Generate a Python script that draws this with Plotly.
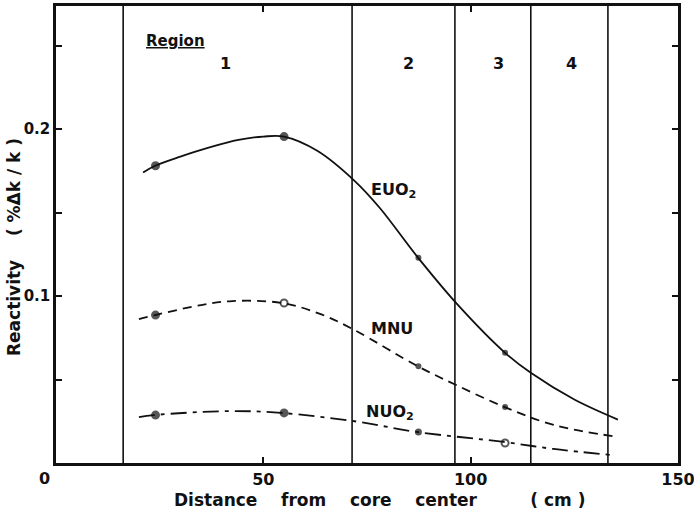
import plotly.graph_objects as go

# ---- data ----
# smooth curves
euo2_curve_x = [21.0, 23.9, 30.0, 37.0, 44.0, 50.0, 55.0, 63.0, 72.0, 78.0, 87.3, 96.8, 108.3, 114.5, 125.0, 135.5]
euo2_curve_y = [0.174, 0.178, 0.1835, 0.189, 0.1935, 0.1955, 0.1955, 0.187, 0.169, 0.153, 0.123, 0.095, 0.066, 0.054, 0.038, 0.026]

mnu_curve_x = [20.0, 23.9, 35.0, 42.5, 54.6, 64.0, 72.0, 87.2, 96.5, 108.2, 120.0, 135.5]
mnu_curve_y = [0.0862, 0.0886, 0.0946, 0.097, 0.0958, 0.089, 0.0796, 0.058, 0.0467, 0.0335, 0.0228, 0.0156]

nuo2_curve_x = [20.0, 23.6, 42.0, 54.3, 72.0, 87.0, 108.0, 120.0, 134.0]
nuo2_curve_y = [0.0275, 0.0287, 0.0311, 0.030, 0.025, 0.0186, 0.0126, 0.0084, 0.0048]

# measured points
point_x = [24.0, 55.0, 87.4, 108.3]
euo2_pts = [0.178, 0.1955, 0.123, 0.066]
mnu_pts = [0.0886, 0.0958, 0.058, 0.0335]
nuo2_pts = [0.0287, 0.030, 0.0186, 0.0120]

# region boundaries and labels
region_bounds = [16.2, 71.4, 96.2, 114.5, 133.1]
region_names = ["1", "2", "3", "4"]
region_label_x = [40.8, 84.9, 106.8, 124.4]

series_names = ["EUO<sub>2</sub>", "MNU", "NUO<sub>2</sub>"]
series_label_x = [81.3, 81.0, 80.6]
series_label_y = [0.1635, 0.0808, 0.0300]

x_ticks = [50, 100, 150]
y_ticks = [0.1, 0.2]
y_tick_text = ["0.1", "0.2"]
y_minor_ticks = [0.05, 0.15, 0.25]

x_title = "Distance    from    core    center         ( cm )"
y_title = "Reactivity    ( %Δk / k )"

# ---- styles ----
FONT = "DejaVu Sans"
INK = "#111111"

fig = go.Figure()

fig.add_trace(go.Scatter(x=euo2_curve_x, y=euo2_curve_y, mode="lines",
                         line=dict(color=INK, width=1.8, shape="spline", smoothing=1.0),
                         showlegend=False, hoverinfo="skip"))
fig.add_trace(go.Scatter(x=mnu_curve_x, y=mnu_curve_y, mode="lines",
                         line=dict(color=INK, width=1.8, shape="spline", smoothing=1.0,
                                   dash="9px,6px"),
                         showlegend=False, hoverinfo="skip"))
fig.add_trace(go.Scatter(x=nuo2_curve_x, y=nuo2_curve_y, mode="lines",
                         line=dict(color=INK, width=1.8, shape="spline", smoothing=1.0,
                                   dash="16px,6px,4px,6px"),
                         showlegend=False, hoverinfo="skip"))

# point markers
euo2_sym = ["circle", "circle", "circle", "circle"]
euo2_size = [7, 7, 4, 4]
mnu_sym = ["circle", "circle-open", "circle", "circle"]
mnu_size = [7, 7, 4, 4]
nuo2_sym = ["circle", "circle", "circle", "circle-open"]
nuo2_size = [7, 7, 5, 7]

for ys, sym, sz in [(euo2_pts, euo2_sym, euo2_size),
                    (mnu_pts, mnu_sym, mnu_size),
                    (nuo2_pts, nuo2_sym, nuo2_size)]:
    fig.add_trace(go.Scatter(x=point_x, y=ys, mode="markers",
                             marker=dict(color=INK, symbol=sym, size=sz,
                                         line=dict(color=INK, width=2)),
                             showlegend=False, hoverinfo="skip"))

# region boundary lines
shapes = []
for b in region_bounds:
    shapes.append(dict(type="line", xref="x", yref="paper", x0=b, x1=b, y0=0, y1=1,
                       line=dict(color=INK, width=1.6)))

annotations = []
for name, rx in zip(region_names, region_label_x):
    annotations.append(dict(x=rx, y=0.899, xref="x", yref="paper", text=name,
                            showarrow=False, font=dict(family=FONT, size=16, color=INK,
                                                       weight="bold")))
annotations.append(dict(x=28.9, y=0.947, xref="x", yref="paper", text="<u>Region</u>",
                        showarrow=False, font=dict(family=FONT, size=15, color=INK,
                                                   weight="bold")))
for name, lx, ly in zip(series_names, series_label_x, series_label_y):
    annotations.append(dict(x=lx, y=ly, xref="x", yref="y", text=name, showarrow=False,
                            font=dict(family=FONT, size=16, color=INK, weight="bold")))

# origin label
annotations.append(dict(x=0, y=0, xref="x", yref="paper", text="0", showarrow=False,
                        xanchor="right", yanchor="top", xshift=-4, yshift=-4,
                        font=dict(family=FONT, size=16, color=INK, weight="bold")))
# axis titles
annotations.append(dict(x=78.1, y=-0.0805, xref="x", yref="paper", text=x_title,
                        showarrow=False, yanchor="middle",
                        font=dict(family=FONT, size=17, color=INK, weight="bold")))
annotations.append(dict(x=-0.0675, y=0.4726, xref="paper", yref="paper", text=y_title,
                        textangle=-90, showarrow=False, xanchor="center", yanchor="middle",
                        font=dict(family=FONT, size=17, color=INK, weight="bold")))

fig.update_layout(
    width=694, height=510,
    margin=dict(l=56, r=16, t=6, b=47, autoexpand=False),
    paper_bgcolor="white", plot_bgcolor="white",
    shapes=shapes, annotations=annotations,
    font=dict(family=FONT, color=INK),
)
fig.update_xaxes(range=[0, 150], tickvals=x_ticks, ticks="inside", ticklen=6, tickwidth=2,
                 tickcolor=INK, showline=True, linewidth=2.5, linecolor=INK, mirror="ticks",
                 showgrid=False, zeroline=False, ticklabeloverflow="allow", automargin=False,
                 tickfont=dict(family=FONT, size=16, color=INK, weight="bold"))
fig.update_yaxes(range=[0, 0.2737], tickvals=y_ticks, ticktext=y_tick_text, ticks="inside",
                 ticklen=6, tickwidth=2, tickcolor=INK, showline=True, linewidth=2.5,
                 linecolor=INK, mirror="ticks", showgrid=False, zeroline=False,
                 automargin=False, ticklabelstandoff=0,
                 minor=dict(tickvals=y_minor_ticks, ticks="inside", ticklen=6,
                            tickwidth=2, tickcolor=INK, showgrid=False),
                 tickfont=dict(family=FONT, size=15, color=INK, weight="bold"))

fig.write_html("out.html")
